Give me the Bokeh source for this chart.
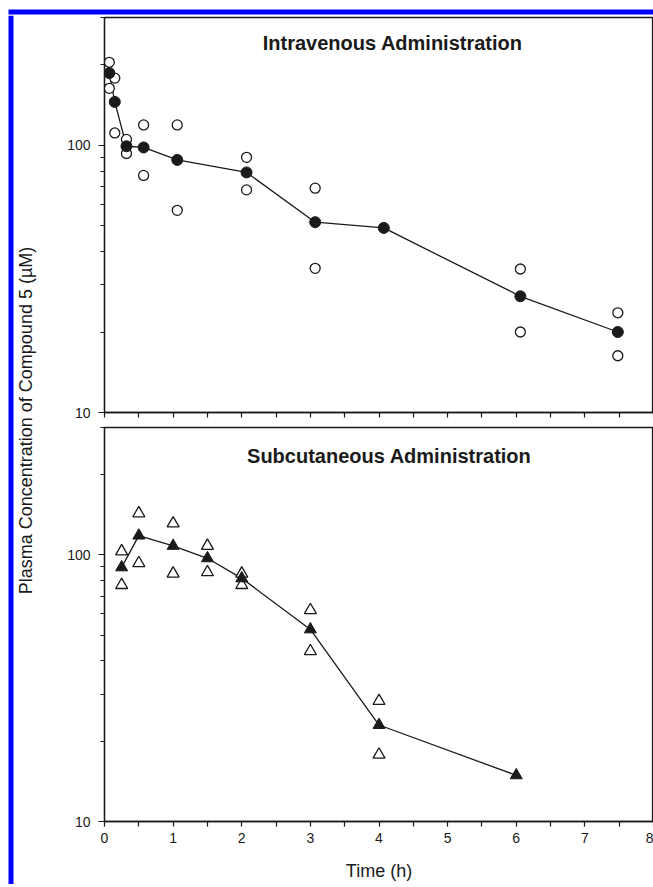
import math
from bokeh.plotting import figure
from bokeh.layouts import column, row
from bokeh.models import Range1d, FixedTicker, Label, CustomJSTickFormatter
from bokeh.embed import file_html
from bokeh.resources import INLINE

# ---------------- data ----------------
iv_time = [0.07, 0.15, 0.32, 0.57, 1.06, 2.07, 3.07, 4.07, 6.06, 7.48]
iv_mean = [186, 145, 99, 98, 88, 79, 51.5, 49, 27.2, 20]
iv_rep_time = [0.07, 0.07, 0.15, 0.15, 0.32, 0.32, 0.57, 0.57, 1.06, 1.06,
               2.07, 2.07, 3.07, 3.07, 6.06, 6.06, 7.48, 7.48]
iv_rep = [204, 163, 178, 111, 105, 93, 119, 77, 119, 57,
          90, 68, 69, 34.6, 34.4, 20, 23.6, 16.3]

sc_time = [0.25, 0.5, 1, 1.5, 2, 3, 4, 6]
sc_mean = [89.7, 118, 108, 97, 81.6, 52.5, 23, 14.9]
sc_rep_time = [0.25, 0.25, 0.5, 0.5, 1, 1, 1.5, 1.5, 2, 2, 3, 3, 4, 4]
sc_rep = [103, 77, 143, 93, 131, 85, 108, 86, 85, 77, 62, 43.5, 28.3, 17.8]

x_major = [0, 1, 2, 3, 4, 5, 6, 7, 8]
x_minor = [0.5, 1.5, 2.5, 3.5, 4.5, 5.5, 6.5, 7.5]
y_major = [10, 100]
y_minor = [20, 30, 40, 50, 60, 70, 80, 90, 200, 300]

title_iv = "Intravenous Administration"
title_sc = "Subcutaneous Administration"
y_title = "Plasma Concentration of Compound 5 (\u00b5M)"
x_title = "Time (h)"

FONT = "Liberation Sans"
INK = "#1a1a1a"
BLUE = "#0000ff"


def blank(width, height, xr, yr):
    f = figure(width=width, height=height, x_range=xr, y_range=yr,
               output_backend="svg", toolbar_location=None, min_border=0)
    f.axis.visible = False
    f.grid.visible = False
    f.outline_line_color = None
    f.background_fill_color = "white"
    f.border_fill_color = "white"
    return f


# header with blue top band
header = blank(653, 15, Range1d(0, 653), Range1d(15, 0))
header.quad(left=8, right=653, top=9, bottom=14, fill_color=BLUE, line_color=None)

# left strip with blue band and y title
left = blank(40, 869, Range1d(0, 40), Range1d(884, 15))
left.quad(left=8, right=13, top=15, bottom=884, fill_color=BLUE, line_color=None)
left.add_layout(Label(x=25, y=420, text=y_title, angle=math.pi / 2,
                      text_align="center", text_baseline="middle",
                      text_font=FONT, text_font_size="18px", text_color=INK))

# footer with thin light line
footer = blank(653, 3, Range1d(0, 653), Range1d(887, 884))
footer.quad(left=8, right=13, top=884, bottom=887, fill_color=BLUE, line_color=None)
footer.quad(left=13, right=653, top=885, bottom=886.3, fill_color="#8080ff", line_color=None)


def panel(frame_h, top_b, bottom_b, show_labels):
    p = figure(frame_width=549, frame_height=frame_h,
               x_range=Range1d(0, 8), y_range=Range1d(10, 300),
               y_axis_type="log", output_backend="svg", toolbar_location=None,
               min_border_left=64, min_border_right=0,
               min_border_top=top_b, min_border_bottom=bottom_b)
    p.grid.visible = False
    p.background_fill_color = "white"
    p.border_fill_color = "white"
    p.outline_line_color = INK
    p.outline_line_width = 1.3
    for ax in (p.xaxis[0], p.yaxis[0]):
        ax.axis_line_color = INK
        ax.axis_line_width = 1.3
        ax.major_tick_line_color = INK
        ax.minor_tick_line_color = INK
        ax.major_tick_line_width = 1.2
        ax.minor_tick_line_width = 1.2
        ax.major_tick_in = 0
        ax.minor_tick_in = 0
        ax.major_label_text_font = FONT
        ax.major_label_text_font_size = "14px"
        ax.major_label_text_color = INK
    p.xaxis.ticker = FixedTicker(ticks=x_major, minor_ticks=x_minor)
    p.yaxis.ticker = FixedTicker(ticks=y_major, minor_ticks=y_minor)
    p.xaxis.major_tick_out = 5
    p.xaxis.minor_tick_out = 5
    p.yaxis.major_tick_out = 6
    p.yaxis.minor_tick_out = 4
    p.yaxis.major_label_standoff = 8
    p.yaxis.formatter = CustomJSTickFormatter(code="return tick.toFixed(0);")
    if show_labels:
        p.xaxis.major_label_standoff = 6
        p.xaxis.axis_label = x_title
        p.xaxis.axis_label_text_font = FONT
        p.xaxis.axis_label_text_font_size = "18px"
        p.xaxis.axis_label_text_font_style = "normal"
        p.xaxis.axis_label_text_color = INK
        p.xaxis.axis_label_standoff = 15
    else:
        p.xaxis.major_label_text_font_size = "0px"
        p.xaxis.major_label_standoff = 0
        p.xaxis.formatter = CustomJSTickFormatter(code="return '';")
    return p


top = panel(395, 2, 10, False)
top.line(iv_time, iv_mean, line_color=INK, line_width=1.3)
top.scatter(iv_rep_time, iv_rep, marker="circle", size=10, fill_color="white",
            line_color=INK, line_width=1.3)
top.scatter(iv_time, iv_mean, marker="circle", size=11, fill_color=INK,
            line_color=INK, line_width=1)
top.add_layout(Label(x=4.2, y=240, text=title_iv, text_align="center",
                     text_baseline="alphabetic", text_font=FONT,
                     text_font_size="20px", text_font_style="bold", text_color=INK))

bot = panel(394, 5, 63, True)
bot.line(sc_time, sc_mean, line_color=INK, line_width=1.3)
bot.scatter(sc_rep_time, sc_rep, marker="triangle", size=12, fill_color="white",
            line_color=INK, line_width=1.3)
bot.scatter(sc_time, sc_mean, marker="triangle", size=12, fill_color=INK,
            line_color=INK, line_width=1)
bot.add_layout(Label(x=4.15, y=235, text=title_sc, text_align="center",
                     text_baseline="alphabetic", text_font=FONT,
                     text_font_size="20px", text_font_style="bold", text_color=INK))

layout = column(header, row(left, column(top, bot)), footer)
layout.spacing = 0

open("out.html", "w").write(file_html(layout, INLINE))
